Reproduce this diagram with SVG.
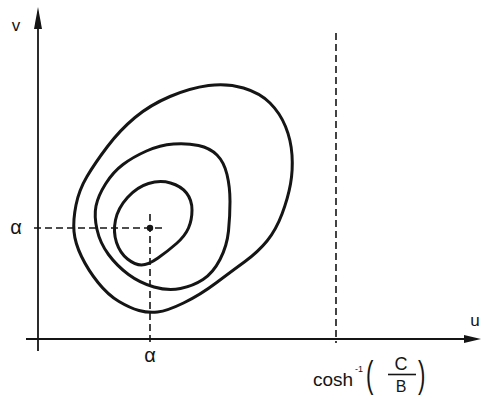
<svg xmlns="http://www.w3.org/2000/svg" width="481" height="396" viewBox="0 0 481 396">
<style>
.curve{fill:none;stroke:#151515;stroke-width:3;stroke-linejoin:round}
.axis{fill:none;stroke:#151515;stroke-width:1.8}
.dash{fill:none;stroke:#151515;stroke-width:1.6;stroke-dasharray:7 4}
.lbl{font-family:"Liberation Sans",Arial,sans-serif;fill:#151515}
</style>
<rect width="481" height="396" fill="#ffffff"/>
<g id="axes">
<line class="axis" x1="38" y1="351" x2="38" y2="20"/>
<polygon points="38,7 34,29 42,29" fill="#151515"/>
<line class="axis" x1="26" y1="339" x2="470" y2="339"/>
<polygon points="481,339 464,335 464,343" fill="#151515"/>
</g>
<g id="connectors">
<line class="dash" x1="34" y1="228" x2="162" y2="228"/>
<line class="dash" x1="150" y1="214" x2="150" y2="345"/>
<line class="dash" x1="336" y1="33" x2="336" y2="343"/>
</g>
<g id="point">
<circle cx="150" cy="228" r="3.2" fill="#151515"/>
</g>
<g id="contour-inner">
<path class="curve" d="M148.5,183.5 Q160,180 170.5,183 Q181,186 186.5,193 Q192,200 192,210 Q192,220 188.5,228 Q185,236 176.5,243.5 Q168,251 158,258 Q148,265 141.5,265 Q135,265 127.5,259 Q120,253 116.5,242.5 Q113,232 115.5,220 Q118,208 127.5,197.5 Q137,187 148.5,183.5 Z"/>
</g>
<g id="contour-middle">
<path class="curve" d="M173.5,144 Q187,143 198.5,145.5 Q210,148 217,155 Q224,162 227,174.5 Q230,187 230,201.5 Q230,216 228.5,231 Q227,246 220,259.5 Q213,273 203,279.5 Q193,286 180.5,288.5 Q168,291 154,287 Q140,283 128.5,274.5 Q117,266 108.5,254.5 Q100,243 97,229.5 Q94,216 96,206 Q98,196 105.5,184 Q113,172 123,164.5 Q133,157 146.5,151 Q160,145 173.5,144 Z"/>
</g>
<g id="contour-outer">
<path class="curve" d="M208.5,85.5 Q227,83 243.5,88 Q260,93 270,103 Q280,113 285.5,126.5 Q291,140 292,155 Q293,170 290.5,184 Q288,198 282,214 Q276,230 267,241 Q258,252 245,261.5 Q232,271 216,283 Q200,295 183.5,303 Q167,311 157.5,312 Q148,313 139,310.5 Q130,308 119,301.5 Q108,295 98,282.5 Q88,270 81.5,256.5 Q75,243 74,231.5 Q73,220 76,205 Q79,190 87,176.5 Q95,163 107.5,146.5 Q120,130 135,117.5 Q150,105 170,96.5 Q190,88 208.5,85.5 Z"/>
</g>
<g id="labels">
<text class="lbl" x="16" y="31" font-size="17" text-anchor="middle">v</text>
<text class="lbl" x="475" y="326" font-size="17" text-anchor="middle">u</text>
<text class="lbl" x="16" y="234" font-size="20" text-anchor="middle">α</text>
<text class="lbl" x="150" y="362" font-size="20" text-anchor="middle">α</text>
<text class="lbl" x="313" y="386" font-size="19">cosh</text>
<text class="lbl" x="355" y="372" font-size="9">-1</text>
<text class="lbl" x="0" y="387" font-size="37" transform="translate(366,0) scale(0.6,1)">(</text>
<text class="lbl" x="0" y="387" font-size="37" transform="translate(418,0) scale(0.6,1)">)</text>
<text class="lbl" x="401" y="370" font-size="18" text-anchor="middle">C</text>
<line x1="388" y1="374.5" x2="416" y2="374.5" stroke="#151515" stroke-width="1.6"/>
<text class="lbl" x="401" y="392" font-size="16" text-anchor="middle">B</text>
</g>
</svg>
